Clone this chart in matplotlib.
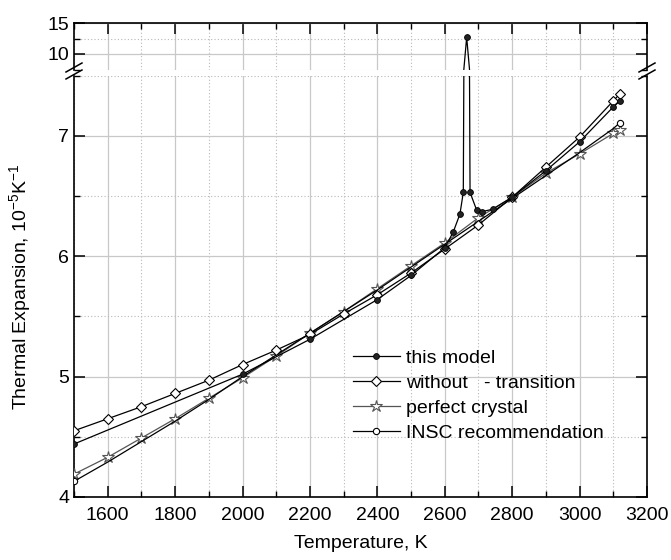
import matplotlib
matplotlib.use("Agg")
import matplotlib.pyplot as plt
from matplotlib.lines import Line2D
from matplotlib.ticker import MultipleLocator

plt.rcParams['font.family'] = ['Liberation Sans', 'DejaVu Sans']
plt.rcParams['font.size'] = 14
plt.rcParams['mathtext.default'] = 'regular'

# ---- data ----
T_model = [1500, 2000, 2200, 2400, 2500, 2600, 2625, 2645, 2655, 2665, 2675,
           2695, 2710, 2742, 2800, 2900, 3000, 3100, 3120]
this_model = [4.44, 5.02, 5.31, 5.64, 5.84, 6.07, 6.20, 6.35, 6.53, 12.7, 6.53,
              6.38, 6.37, 6.39, 6.49, 6.71, 6.95, 7.24, 7.29]

T_grid = [1500, 1600, 1700, 1800, 1900, 2000, 2100, 2200, 2300, 2400, 2500,
          2600, 2700, 2800, 2900, 3000, 3100, 3120]
without_transition = [4.55, 4.65, 4.75, 4.86, 4.97, 5.10, 5.22, 5.35, 5.52, 5.68,
                      5.86, 6.06, 6.26, 6.49, 6.74, 6.99, 7.29, 7.35]
perfect_crystal = [4.19, 4.33, 4.49, 4.65, 4.82, 4.99, 5.17, 5.36, 5.54, 5.73,
                   5.92, 6.11, 6.32, 6.49, 6.69, 6.85, 7.02, 7.05]
insc = [4.13, 4.29, 4.46, 4.63, 4.81, 5.00, 5.18, 5.36, 5.54, 5.72,
        5.91, 6.10, 6.29, 6.48, 6.67, 6.86, 7.06, 7.11]

labels = ["this model", "without   - transition", "perfect crystal", "INSC recommendation"]

W, H = 671, 560
fig = plt.figure(figsize=(W / 100, H / 100), dpi=100)

def fx(px):
    return px / W

def fy(py):
    return 1 - py / H

L, R = 74, 647
ax = fig.add_axes([fx(L), fy(497), fx(R) - fx(L), fy(75.6) - fy(497)])
axt = fig.add_axes([fx(L), fy(69.5), fx(R) - fx(L), fy(23) - fy(69.5)], sharex=ax)

ax.plot(T_grid, perfect_crystal, color='#555555', lw=0.9, marker='*', ms=9,
        mfc='white', mec='#555555', mew=0.8, label=labels[2], zorder=3)
ax.plot(T_grid, insc, color='black', lw=0.9, marker='o', ms=4.5,
        mfc='white', mec='black', mew=0.8, markevery=[0, len(insc) - 1],
        label=labels[3], zorder=3)
ax.plot(T_grid, without_transition, color='black', lw=0.9, marker='D', ms=5,
        mfc='white', mec='black', mew=0.8, label=labels[1], zorder=4)
ax.plot(T_model, this_model, color='black', lw=0.9, marker='o', ms=4.2,
        mfc='#222222', mec='black', mew=0.6, label=labels[0], zorder=5)

# upper (broken) part: only the spike of "this model" reaches it
peak = this_model.index(max(this_model))
axt.plot(T_model, this_model, color='black', lw=0.9, marker='o', ms=4.2,
         mfc='#222222', mec='black', mew=0.6, markevery=[peak], zorder=5)

ax.set_xlim(1500, 3200)
ax.set_ylim(4, 7.5)
axt.set_ylim(7.5, 15)

ax.xaxis.set_major_locator(MultipleLocator(200))
ax.xaxis.set_minor_locator(MultipleLocator(100))
ax.yaxis.set_major_locator(MultipleLocator(1))
ax.yaxis.set_minor_locator(MultipleLocator(0.5))
axt.yaxis.set_major_locator(MultipleLocator(5))
axt.yaxis.set_minor_locator(MultipleLocator(2.5))

for a in (ax, axt):
    a.grid(which='major', color='#c8c8c8', lw=0.9, ls='-', zorder=0)
    a.grid(which='minor', color='#b8b8b8', lw=0.8, ls=(0, (1, 2)), zorder=0)
    a.set_axisbelow(True)
    for s in a.spines.values():
        s.set_linewidth(1.2)
    a.tick_params(which='major', direction='in', length=8, width=1.1, labelsize=14)
    a.tick_params(which='minor', direction='in', length=4.5, width=1.0)

ax.spines['top'].set_visible(False)
axt.spines['bottom'].set_visible(False)
ax.tick_params(which='both', top=False, right=True, bottom=True, left=True)
axt.tick_params(which='both', top=True, bottom=False, right=True, left=True,
                labelbottom=False)
ax.set_xticks([1600, 1800, 2000, 2200, 2400, 2600, 2800, 3000, 3200])
ax.tick_params(axis='x', pad=7)
ax.set_yticks([4, 5, 6, 7])
axt.set_yticks([10, 15])

ax.set_xlabel("Temperature, K", fontsize=14, labelpad=8)
ax.set_ylabel("Thermal Expansion, 10$^{-5}$K$^{-1}$", fontsize=14, labelpad=18)

# break marks
for xb in (L, R):
    for dy in (0, 7):
        fig.add_artist(Line2D([fx(xb - 8), fx(xb + 8)], [fy(72 + dy), fy(63 + dy)],
                              transform=fig.transFigure, color='black', lw=1.1))

# legend
handles, labs = ax.get_legend_handles_labels()
order = [labs.index(l) for l in labels]
leg = ax.legend([handles[i] for i in order], [labs[i] for i in order],
                loc='upper left', bbox_to_anchor=(fx(353), fy(349)),
                bbox_transform=fig.transFigure, frameon=False, fontsize=14,
                handlelength=2.4, handletextpad=0.35, labelspacing=0.38,
                borderpad=0, borderaxespad=0)

fig.savefig("out.png", dpi=100)
